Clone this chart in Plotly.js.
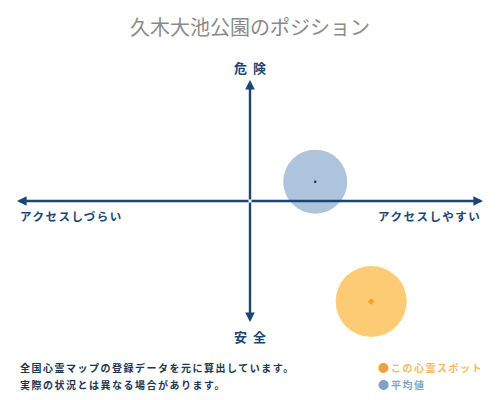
<!DOCTYPE html>
<html>
<head>
<meta charset="utf-8">
<script src="https://cdn.plot.ly/plotly-3.0.1.min.js"></script>
<style>
  body { margin: 0; }
  #myDiv { width: 500px; height: 400px; }
  .annotation-text { letter-spacing: 1.5px; }
</style>
</head>
<body>
<div id="myDiv"></div>
<script>
// values (axis range -1..1)
var seriesNames = ['この心霊スポット', '平均値']
var xVals = [0.52, 0.28]
var yVals = [-0.83, 0.16]
var fillColors = ['rgba(253,190,80,0.8)', 'rgba(140,170,205,0.7)']
var dotColors = ['#f2a324', '#1b2f4a']
var bigSizes = [71, 64]

var navy = '#1b4673'
var font = '"Noto Sans CJK JP", "Noto Sans", sans-serif'

var data = []
for (var i = 0; i < seriesNames.length; i++) {
  data.push({
    x: [xVals[i]], y: [yVals[i]],
    type: 'scatter', mode: 'markers', name: seriesNames[i], cliponaxis: false,
    marker: {size: bigSizes[i], color: fillColors[i], line: {width: 0}},
    hoverinfo: 'skip'
  })
  data.push({
    x: [xVals[i]], y: [yVals[i]],
    type: 'scatter', mode: 'markers', name: seriesNames[i], cliponaxis: false,
    marker: {size: i == 0 ? 5 : 2.5, symbol: i == 0 ? 'diamond' : 'circle', color: dotColors[i]},
    hoverinfo: 'skip'
  })
}

// pixel -> paper helpers (plot area is 17..483 x 80..322)
function px(v) { return (v - 17) / 466 }
function py(v) { return (322 - v) / 242 }

function arrow(x, y) {
  return {
    x: x, y: y, ax: 0, ay: 0, axref: 'x', ayref: 'y', xref: 'x', yref: 'y',
    text: '', showarrow: true, arrowhead: 2, arrowsize: 0.8, arrowwidth: 2.4,
    arrowcolor: navy, standoff: 0, startstandoff: 0
  }
}

function label(x, y, txt, size, color, anchor) {
  return {
    x: px(x), y: py(y), xref: 'paper', yref: 'paper', text: txt,
    showarrow: false, xanchor: anchor || 'center', yanchor: 'middle',
    font: {family: font, size: size, color: color}
  }
}

var annotations = [
  arrow(1, 0), arrow(-1, 0), arrow(0, 1), arrow(0, -1),
  label(250, 67, '<b>危 険</b>', 13, navy),
  label(250, 336, '<b>安 全</b>', 13, navy),
  label(18, 216, '<b>アクセスしづらい</b>', 11.5, navy, 'left'),
  label(483, 216, '<b>アクセスしやすい</b>', 11.5, navy, 'right'),
  label(18, 367, '<b>全国心霊マップの登録データを元に算出しています。</b>', 10, '#1e3550', 'left'),
  label(18, 384, '<b>実際の状況とは異なる場合があります。</b>', 10, '#1e3550', 'left'),
  label(376, 367, '●', 11, '#f0a040', 'left'),
  label(389, 367, '<b>' + seriesNames[0] + '</b>', 10, '#f2b866', 'left'),
  label(376, 384, '●', 11, '#7fa3c6', 'left'),
  label(389, 384, '<b>' + seriesNames[1] + '</b>', 10, '#7fa3c6', 'left')
]

var layout = {
  width: 500, height: 400,
  margin: {l: 17, r: 17, t: 80, b: 78},
  paper_bgcolor: '#ffffff', plot_bgcolor: '#ffffff',
  showlegend: false,
  title: {
    text: '久木大池公園のポジション',
    font: {family: font, size: 20, color: '#8a8a8a'},
    x: 0.5, xanchor: 'center', y: 0.93, yanchor: 'middle'
  },
  xaxis: {range: [-1, 1], visible: false, fixedrange: true},
  yaxis: {range: [-1, 1], visible: false, fixedrange: true},
  annotations: annotations
}

Plotly.newPlot('myDiv', data, layout, {displayModeBar: false, staticPlot: true})
</script>
</body>
</html>
